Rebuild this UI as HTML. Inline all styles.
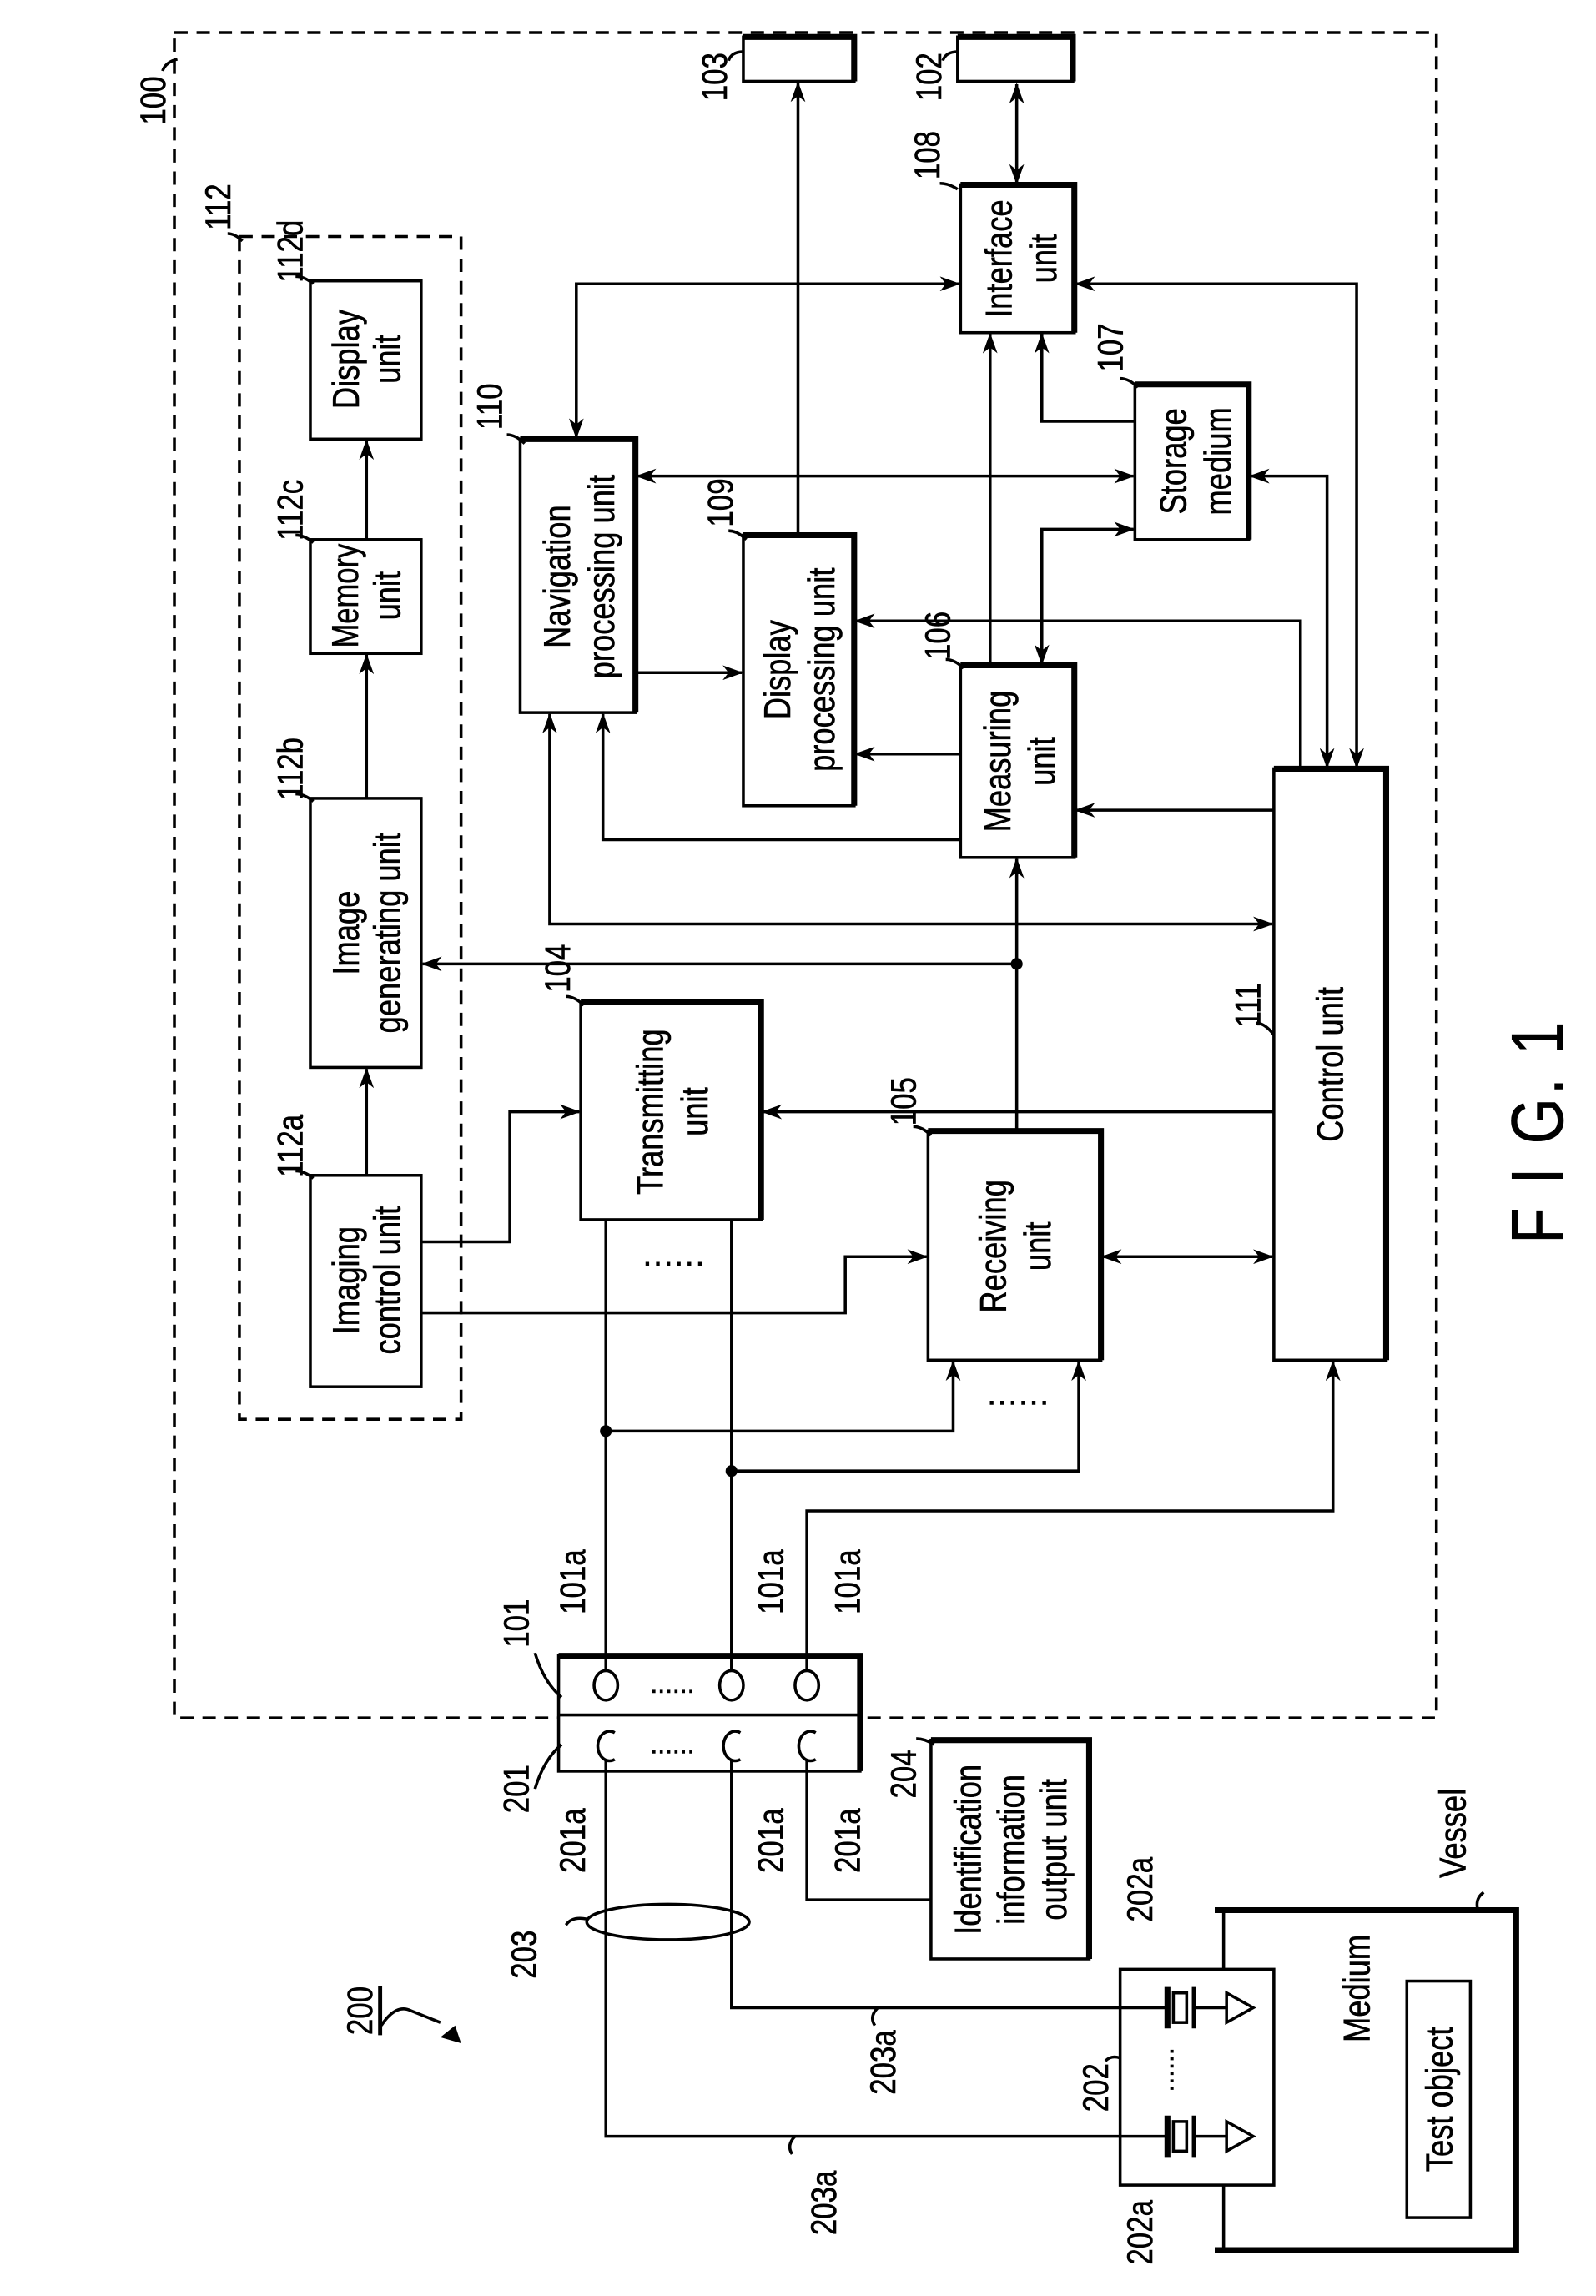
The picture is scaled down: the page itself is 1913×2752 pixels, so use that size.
<!DOCTYPE html>
<html><head><meta charset="utf-8"><style>
html,body{margin:0;padding:0;background:#fff;}
svg{display:block;}
text{font-family:"Liberation Sans Narrow","Liberation Sans",sans-serif;fill:#000;stroke:#000;stroke-width:0.35;}
</style></head><body>
<svg width="1913" height="2752" viewBox="0 0 1080 1553" preserveAspectRatio="none" xmlns="http://www.w3.org/2000/svg">
<defs>
<marker id="a" markerWidth="14" markerHeight="10" refX="13" refY="5" orient="auto" markerUnits="userSpaceOnUse"><path d="M0,0 L14,5 L0,10 L4,5 Z" fill="#000"/></marker>
<marker id="s" markerWidth="14" markerHeight="10" refX="1" refY="5" orient="auto" markerUnits="userSpaceOnUse"><path d="M14,0 L0,5 L14,10 L10,5 Z" fill="#000"/></marker>
</defs>
<g fill="none" stroke="#000" stroke-width="2">
<rect x="118" y="22" width="854" height="1140" stroke-dasharray="9 6"/>
<rect x="162" y="160" width="150" height="800" stroke-dasharray="9 6"/>
</g>
<g fill="#fff" stroke="#000" stroke-width="2">
<rect x="503" y="25" width="75" height="30"/>
<rect x="648" y="25" width="78" height="30"/>
<rect x="650" y="125" width="77" height="100"/>
<rect x="768" y="260" width="77" height="105"/>
<rect x="352" y="297" width="78" height="185"/>
<rect x="503" y="362" width="75" height="183"/>
<rect x="650" y="450" width="77" height="130"/>
<rect x="862" y="520" width="76" height="400"/>
<rect x="393" y="678" width="122" height="147"/>
<rect x="628" y="765" width="117" height="155"/>
<rect x="210" y="190" width="75" height="107"/>
<rect x="210" y="365" width="75" height="77"/>
<rect x="210" y="540" width="75" height="182"/>
<rect x="210" y="795" width="75" height="143"/>
<rect x="378" y="1120" width="204" height="78"/>
<rect x="630" y="1177" width="107" height="148"/>
<rect x="758" y="1332" width="104" height="146"/>
<rect x="952" y="1340" width="43" height="160"/>
</g>
<g stroke="#000" stroke-width="4" fill="none">
<path d="M503,25 H578 V55"/><path d="M648,25 H726 V55"/>
<path d="M650,125 H727 V225"/><path d="M768,260 H845 V365"/>
<path d="M352,297 H430 V482"/><path d="M503,362 H578 V545"/>
<path d="M650,450 H727 V580"/><path d="M862,520 H938 V920"/>
<path d="M393,678 H515 V825"/><path d="M628,765 H745 V920"/>
<path d="M630,1177 H737 V1325"/><path d="M378,1120 H582 V1198"/>
</g>
<g stroke="#000" stroke-width="2" fill="none">
<line x1="378" y1="1160" x2="582" y2="1160"/>
<path d="M822,1292 H1026 V1522 H822" stroke-width="4"/>
<line x1="828" y1="1292" x2="828" y2="1332"/>
<line x1="828" y1="1478" x2="828" y2="1522"/>
<line x1="540" y1="362" x2="540" y2="56" marker-end="url(#a)"/>
<line x1="688" y1="57" x2="688" y2="124" marker-start="url(#s)" marker-end="url(#a)"/>
<path d="M649,192 H390 V296" marker-start="url(#s)" marker-end="url(#a)"/>
<path d="M728,192 H918 V519" marker-start="url(#s)" marker-end="url(#a)"/>
<path d="M768,285 H705 V226" marker-end="url(#a)"/>
<line x1="670" y1="450" x2="670" y2="226" marker-end="url(#a)"/>
<line x1="431" y1="322" x2="767" y2="322" marker-start="url(#s)" marker-end="url(#a)"/>
<path d="M705,449 V358 H767" marker-start="url(#s)" marker-end="url(#a)"/>
<path d="M846,322 H898 V519" marker-start="url(#s)" marker-end="url(#a)"/>
<path d="M880,520 V420 H579" marker-end="url(#a)"/>
<line x1="430" y1="455" x2="502" y2="455" marker-end="url(#a)"/>
<line x1="650" y1="510" x2="579" y2="510" marker-end="url(#a)"/>
<line x1="862" y1="548" x2="728" y2="548" marker-end="url(#a)"/>
<path d="M650,568 H408 V483" marker-end="url(#a)"/>
<path d="M372,483 V625 H861" marker-start="url(#s)" marker-end="url(#a)"/>
<line x1="688" y1="765" x2="688" y2="581" marker-end="url(#a)"/>
<line x1="688" y1="652" x2="286" y2="652" marker-end="url(#a)"/>
<line x1="862" y1="752" x2="516" y2="752" marker-end="url(#a)"/>
<line x1="746" y1="850" x2="861" y2="850" marker-start="url(#s)" marker-end="url(#a)"/>
<path d="M285,840 H345 V752 H392" marker-end="url(#a)"/>
<path d="M285,888 H572 V850 H627" marker-end="url(#a)"/>
<line x1="248" y1="795" x2="248" y2="723" marker-end="url(#a)"/>
<line x1="248" y1="540" x2="248" y2="443" marker-end="url(#a)"/>
<line x1="248" y1="365" x2="248" y2="298" marker-end="url(#a)"/>
<line x1="410" y1="825" x2="410" y2="1132"/>
<line x1="495" y1="825" x2="495" y2="1132"/>
<path d="M410,968 H645 V921" marker-end="url(#a)"/>
<path d="M495,995 H730 V921" marker-end="url(#a)"/>
<path d="M546,1132 V1022 H902 V921" marker-end="url(#a)"/>
<ellipse cx="410" cy="1140" rx="8" ry="10" fill="#fff"/>
<ellipse cx="495" cy="1140" rx="8" ry="10" fill="#fff"/>
<ellipse cx="546" cy="1140" rx="8" ry="10" fill="#fff"/>
<path d="M416,1172 A8,10 0 1 0 416,1190"/>
<path d="M501,1172 A8,10 0 1 0 501,1190"/>
<path d="M552,1172 A8,10 0 1 0 552,1190"/>
<path d="M410,1190 V1445 H790"/>
<path d="M495,1190 V1358 H790"/>
<path d="M546,1190 V1285 H630"/>
<ellipse cx="452" cy="1300" rx="55" ry="12"/>
<g>
<line x1="790" y1="1344" x2="790" y2="1372" stroke-width="4"/>
<rect x="794" y="1348" width="9" height="20"/>
<line x1="808" y1="1344" x2="808" y2="1372" stroke-width="3"/>
<line x1="808" y1="1358" x2="830" y2="1358"/>
<path d="M830,1348 L848,1358 L830,1368 Z"/>
<line x1="790" y1="1431" x2="790" y2="1459" stroke-width="4"/>
<rect x="794" y="1435" width="9" height="20"/>
<line x1="808" y1="1431" x2="808" y2="1459" stroke-width="3"/>
<line x1="808" y1="1445" x2="830" y2="1445"/>
<path d="M830,1435 L848,1445 L830,1455 Z"/>
</g>
<path d="M120,40 q-8,2 -10,8"/>
<path d="M503,35 q-8,0 -10,6"/>
<path d="M648,35 q-8,0 -10,6"/>
<path d="M648,128 q-6,-4 -12,-4"/>
<path d="M770,262 q-6,-6 -12,-6"/>
<path d="M355,300 q-6,-6 -12,-6"/>
<path d="M505,365 q-6,-6 -12,-6"/>
<path d="M652,452 q-6,-6 -12,-6"/>
<path d="M862,700 q-6,-8 -12,-8"/>
<path d="M395,680 q-6,-6 -12,-6"/>
<path d="M630,768 q-6,-6 -12,-6"/>
<path d="M164,163 q-5,-5 -10,-5"/>
<path d="M212,192 q-6,-5 -12,-5"/>
<path d="M212,367 q-6,-5 -12,-5"/>
<path d="M212,542 q-6,-5 -12,-5"/>
<path d="M212,797 q-6,-5 -12,-5"/>
<path d="M380,1148 q-12,-10 -18,-30"/>
<path d="M380,1180 q-12,10 -18,30"/>
<path d="M632,1180 q-6,-4 -12,-4"/>
<path d="M397,1298 q-10,-2 -14,4"/>
<path d="M594,1358 q-6,6 -2,12"/>
<path d="M538,1445 q-6,6 -2,12"/>
<path d="M758,1392 q-6,-2 -10,2"/>
<path d="M1000,1292 q-2,-8 4,-12"/>
<path d="M258,1370 q10,-15 20,-10 q10,4 20,8"/>
</g>
<path d="M312,1382 l-14,-4 l10,-8 z" fill="#000"/>
<g fill="#000"><circle cx="688" cy="652" r="4"/><circle cx="410" cy="968" r="4"/><circle cx="495" cy="995" r="4"/></g>
<g font-size="22">
<text x="435" y="856" letter-spacing="1">......</text>
<text x="668" y="950" letter-spacing="1">......</text>
<text x="440" y="1145" font-size="18">......</text>
<text x="440" y="1186" font-size="18">......</text>
<text transform="translate(792,1385) rotate(90)" font-size="18">......</text>
</g>
<g font-size="25" text-anchor="middle" dominant-baseline="central">
<text transform="translate(676,175) rotate(-90) scale(0.82,1)">Interface</text>
<text transform="translate(706,175) rotate(-90) scale(0.82,1)">unit</text>
<text transform="translate(794,312) rotate(-90) scale(0.82,1)">Storage</text>
<text transform="translate(824,312) rotate(-90) scale(0.82,1)">medium</text>
<text transform="translate(377,390) rotate(-90) scale(0.82,1)">Navigation</text>
<text transform="translate(407,390) rotate(-90) scale(0.82,1)">processing unit</text>
<text transform="translate(526,453) rotate(-90) scale(0.82,1)">Display</text>
<text transform="translate(556,453) rotate(-90) scale(0.82,1)">processing unit</text>
<text transform="translate(675,515) rotate(-90) scale(0.82,1)">Measuring</text>
<text transform="translate(705,515) rotate(-90) scale(0.82,1)">unit</text>
<text transform="translate(900,720) rotate(-90) scale(0.82,1)">Control unit</text>
<text transform="translate(440,752) rotate(-90) scale(0.82,1)">Transmitting</text>
<text transform="translate(470,752) rotate(-90) scale(0.82,1)">unit</text>
<text transform="translate(672,843) rotate(-90) scale(0.82,1)">Receiving</text>
<text transform="translate(702,843) rotate(-90) scale(0.82,1)">unit</text>
<text transform="translate(234,243) rotate(-90) scale(0.82,1)">Display</text>
<text transform="translate(262,243) rotate(-90) scale(0.82,1)">unit</text>
<text transform="translate(234,403) rotate(-90) scale(0.78,1)">Memory</text>
<text transform="translate(262,403) rotate(-90) scale(0.82,1)">unit</text>
<text transform="translate(234,631) rotate(-90) scale(0.82,1)">Image</text>
<text transform="translate(262,631) rotate(-90) scale(0.82,1)">generating unit</text>
<text transform="translate(234,866) rotate(-90) scale(0.82,1)">Imaging</text>
<text transform="translate(262,866) rotate(-90) scale(0.82,1)">control unit</text>
<text transform="translate(655,1251) rotate(-90) scale(0.82,1)">Identification</text>
<text transform="translate(684,1251) rotate(-90) scale(0.82,1)">information</text>
<text transform="translate(713,1251) rotate(-90) scale(0.82,1)">output unit</text>
<text transform="translate(918,1345) rotate(-90) scale(0.82,1)">Medium</text>
<text transform="translate(974,1420) rotate(-90) scale(0.82,1)">Test object</text>
<text transform="translate(983,1240) rotate(-90) scale(0.82,1)">Vessel</text>
</g>
<g font-size="24" text-anchor="middle" dominant-baseline="central">
<text transform="translate(104,68) rotate(-90) scale(0.82,1)">100</text>
<text transform="translate(484,52) rotate(-90) scale(0.82,1)">103</text>
<text transform="translate(629,52) rotate(-90) scale(0.82,1)">102</text>
<text transform="translate(628,105) rotate(-90) scale(0.82,1)">108</text>
<text transform="translate(752,235) rotate(-90) scale(0.82,1)">107</text>
<text transform="translate(332,275) rotate(-90) scale(0.82,1)">110</text>
<text transform="translate(488,340) rotate(-90) scale(0.82,1)">109</text>
<text transform="translate(635,430) rotate(-90) scale(0.82,1)">106</text>
<text transform="translate(845,680) rotate(-90) scale(0.82,1)">111</text>
<text transform="translate(378,655) rotate(-90) scale(0.82,1)">104</text>
<text transform="translate(612,745) rotate(-90) scale(0.82,1)">105</text>
<text transform="translate(148,140) rotate(-90) scale(0.82,1)">112</text>
<text transform="translate(197,170) rotate(-90) scale(0.82,1)">112d</text>
<text transform="translate(197,345) rotate(-90) scale(0.82,1)">112c</text>
<text transform="translate(197,520) rotate(-90) scale(0.82,1)">112b</text>
<text transform="translate(197,775) rotate(-90) scale(0.82,1)">112a</text>
<text transform="translate(350,1098) rotate(-90) scale(0.82,1)">101</text>
<text transform="translate(388,1070) rotate(-90) scale(0.82,1)">101a</text>
<text transform="translate(522,1070) rotate(-90) scale(0.82,1)">101a</text>
<text transform="translate(574,1070) rotate(-90) scale(0.82,1)">101a</text>
<text transform="translate(350,1210) rotate(-90) scale(0.82,1)">201</text>
<text transform="translate(388,1245) rotate(-90) scale(0.82,1)">201a</text>
<text transform="translate(522,1245) rotate(-90) scale(0.82,1)">201a</text>
<text transform="translate(574,1245) rotate(-90) scale(0.82,1)">201a</text>
<text transform="translate(612,1200) rotate(-90) scale(0.82,1)">204</text>
<text transform="translate(355,1322) rotate(-90) scale(0.82,1)">203</text>
<text transform="translate(598,1395) rotate(-90) scale(0.82,1)">203a</text>
<text transform="translate(558,1490) rotate(-90) scale(0.82,1)">203a</text>
<text transform="translate(772,1278) rotate(-90) scale(0.82,1)">202a</text>
<text transform="translate(772,1510) rotate(-90) scale(0.82,1)">202a</text>
<text transform="translate(742,1412) rotate(-90) scale(0.82,1)">202</text>
<text transform="translate(244,1360) rotate(-90) scale(0.82,1)" text-decoration="underline">200</text>
</g>
<text transform="translate(1040,765) rotate(-90) scale(0.8,1)" font-size="50" text-anchor="middle" dominant-baseline="central" letter-spacing="3">F I G. 1</text>
</svg>
</body></html>
